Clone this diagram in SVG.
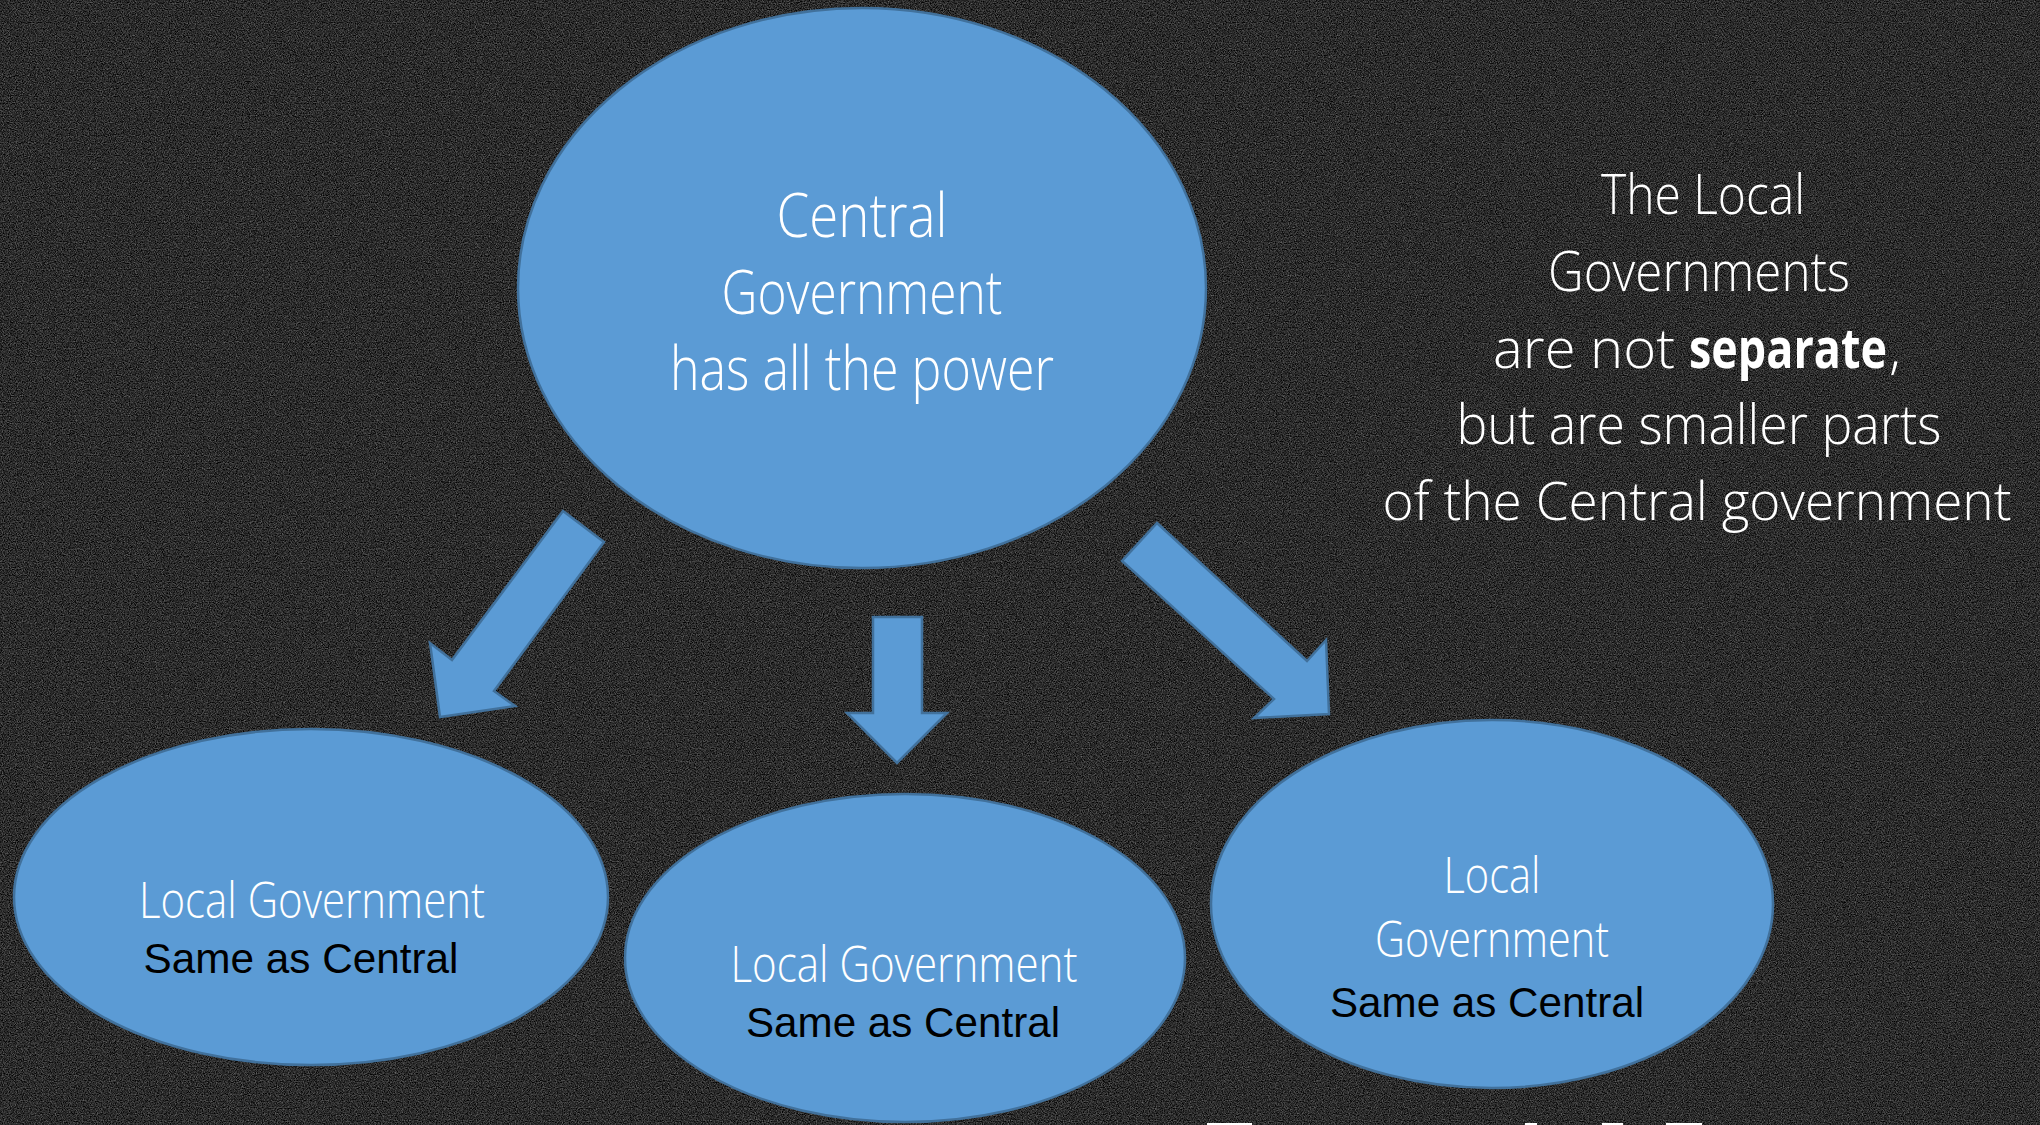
<svg xmlns="http://www.w3.org/2000/svg" width="2040" height="1125" viewBox="0 0 2040 1125">
<defs>
<filter id="noise" x="0" y="0" width="2040" height="1125" filterUnits="userSpaceOnUse" color-interpolation-filters="sRGB">
<feTurbulence type="fractalNoise" baseFrequency="0.85" numOctaves="3" seed="7" stitchTiles="stitch"/>
<feColorMatrix type="matrix" values="0.6 0 0 0 -0.13  0.6 0 0 0 -0.13  0.6 0 0 0 -0.13  0 0 0 0 1"/>
</filter>
<style>
.shape{fill:#5b9bd5;stroke:#41719c;stroke-width:2.5}
.hand{font-family:"Open Sans","Liberation Sans",sans-serif;font-weight:300;fill:#ffffff;text-anchor:middle}
.c{font-size:60px}
.note{font-size:56px}
.loc{font-size:50px}
.st{text-anchor:start}
.b{font-weight:700}
.same{font-family:"Liberation Sans",Arial,sans-serif;font-size:42px;fill:#000000;text-anchor:middle}
</style>
</defs>
<rect x="0" y="0" width="2040" height="1125" fill="#2d2c2c"/>
<rect x="0" y="0" width="2040" height="1125" filter="url(#noise)"/>

<g id="connectors">
<polygon class="shape" points="563,511 604,542 494,691 515,706 440,717 430,643 452,660"/>
<polygon class="shape" points="873,617 922,617 922,713 947,713 897,763 847,713 873,713"/>
<polygon class="shape" points="1157,523 1307,661 1326,640 1329,714 1254,718 1274,699 1122,561"/>
</g>

<g id="central">
<ellipse class="shape" cx="862" cy="288" rx="344" ry="280"/>
<text class="hand c" x="862" y="237" textLength="171" lengthAdjust="spacingAndGlyphs">Central</text>
<text class="hand c" x="862" y="314" textLength="281" lengthAdjust="spacingAndGlyphs">Government</text>
<text class="hand c" x="862" y="390" textLength="384" lengthAdjust="spacingAndGlyphs">has all the power</text>
</g>

<g id="note">
<text class="hand note" x="1703" y="214" textLength="204" lengthAdjust="spacingAndGlyphs">The Local</text>
<text class="hand note" x="1699" y="291" textLength="302" lengthAdjust="spacingAndGlyphs">Governments</text>
<text class="hand note st" x="1493" y="368"><tspan textLength="182" lengthAdjust="spacingAndGlyphs">are not</tspan> <tspan x="1689" class="b" textLength="198" lengthAdjust="spacingAndGlyphs">separate</tspan><tspan x="1889">,</tspan></text>
<text class="hand note" x="1699" y="444" textLength="485" lengthAdjust="spacingAndGlyphs">but are smaller parts</text>
<text class="hand" font-size="53" x="1697" y="520" textLength="629" lengthAdjust="spacingAndGlyphs">of the Central government</text>
</g>

<g id="local-left">
<ellipse class="shape" cx="311" cy="897" rx="297" ry="168"/>
<text class="hand loc" x="312" y="918" textLength="346" lengthAdjust="spacingAndGlyphs">Local Government</text>
<text class="same" x="301" y="973" textLength="315" lengthAdjust="spacingAndGlyphs">Same as Central</text>
</g>

<g id="local-middle">
<ellipse class="shape" cx="905" cy="958" rx="280" ry="164"/>
<text class="hand loc" x="904" y="982" textLength="347" lengthAdjust="spacingAndGlyphs">Local Government</text>
<text class="same" x="903" y="1037" textLength="314" lengthAdjust="spacingAndGlyphs">Same as Central</text>
</g>

<g id="local-right">
<ellipse class="shape" cx="1492" cy="904" rx="281" ry="184"/>
<text class="hand loc" x="1492" y="893" textLength="97" lengthAdjust="spacingAndGlyphs">Local</text>
<text class="hand loc" x="1492" y="957" textLength="234" lengthAdjust="spacingAndGlyphs">Government</text>
<text class="same" x="1487" y="1017" textLength="314" lengthAdjust="spacingAndGlyphs">Same as Central</text>
</g>

<g id="bottom-marks" fill="#ffffff">
<rect x="1207" y="1123" width="45" height="2"/>
<rect x="1525" y="1123" width="12" height="2"/>
<rect x="1602" y="1123" width="21" height="2"/>
<rect x="1666" y="1123" width="36" height="2"/>
</g>
</svg>
